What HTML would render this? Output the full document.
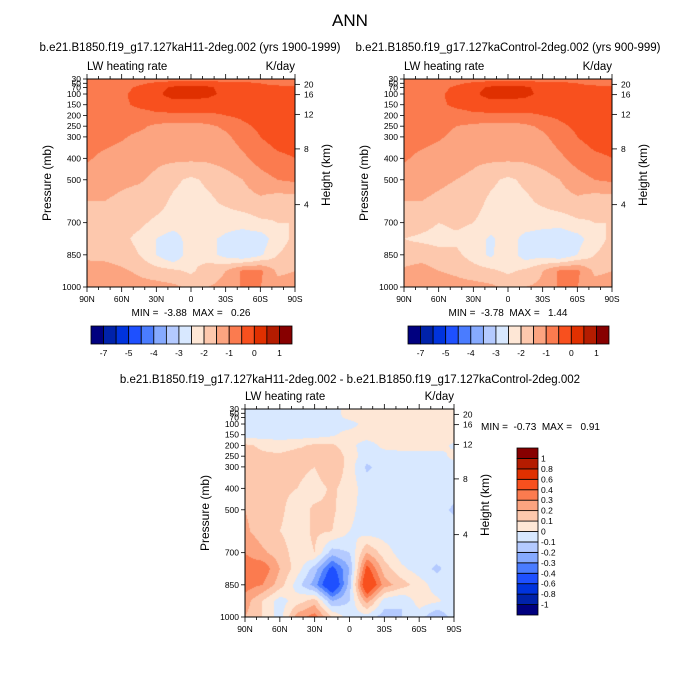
<!DOCTYPE html>
<html><head><meta charset="utf-8">
<style>
body{margin:0;background:#fff;}
#root{position:relative;width:700px;height:700px;overflow:hidden;font-family:"Liberation Sans",sans-serif;}
canvas{position:absolute;}
svg{position:absolute;left:0;top:0;}
</style></head>
<body>
<div id="root">
<svg id="svg" width="700" height="700"></svg>
</div>
<script>
// ---- data ----
const lats = [90,75,60,45,30,15,0,-15,-30,-45,-60,-75,-90];
const pressures = [30,50,70,100,150,200,250,300,400,500,600,700,775,850,925,1000];
const pressureTicks = [30,50,70,100,150,200,250,300,400,500,700,850,1000];
const latTicks = [90,60,30,0,-30,-60,-90];
const latTickLabels = ["90N","60N","30N","0","30S","60S","90S"];
const heightTicks = [20,16,12,8,4];
const heightTickPressures = [55,103,195,356,616];
const palette = ["#00007f","#0022aa","#0033dd","#1e50ff","#4a7cff","#86aaff","#b4caff","#d8e8ff","#fee7d6","#fdc8ad","#fca480","#fb7b4f","#f8501e","#e03000","#b41c00","#870000"];
const levelsAbs = [-7,-6,-5,-4.5,-4,-3.5,-3,-2.5,-2,-1.5,-1,-0.5,0,0.5,1];
const levelsAbsLabels = ["-7","","-5","","-4","","-3","","-2","","-1","","0","","1"];
const levelsDiff = [-1,-0.8,-0.6,-0.4,-0.3,-0.2,-0.1,0,0.1,0.2,0.3,0.4,0.6,0.8,1];
const levelsDiffLabels = ["-1","-0.8","-0.6","-0.4","-0.3","-0.2","-0.1","0","0.1","0.2","0.3","0.4","0.6","0.8","1"];
const fieldH11 = [
[-0.8,-0.8,-0.8,-0.8,-0.8,-0.7,-0.7,-0.7,-0.7,-0.7,-0.8,-0.8,-0.8],
[-0.8,-0.8,-0.8,-0.6,-0.4,-0.3,-0.3,-0.3,-0.4,-0.4,-0.5,-0.6,-0.7],
[-0.8,-0.8,-0.7,-0.4,-0.2,0.1,0.2,0.1,-0.2,-0.3,-0.4,-0.4,-0.4],
[-0.8,-0.8,-0.6,-0.3,-0.1,0.2,0.2,0.1,-0.1,-0.3,-0.3,-0.3,-0.3],
[-0.8,-0.8,-0.6,-0.4,-0.3,-0.2,-0.2,-0.2,-0.3,-0.3,-0.3,-0.3,-0.3],
[-0.8,-0.8,-0.75,-0.7,-0.6,-0.6,-0.6,-0.6,-0.5,-0.4,-0.3,-0.3,-0.3],
[-0.8,-0.8,-0.85,-0.9,-1.1,-1.2,-1.2,-1.1,-0.9,-0.6,-0.4,-0.3,-0.3],
[-0.8,-0.85,-0.95,-1.1,-1.2,-1.3,-1.3,-1.3,-1.1,-0.8,-0.5,-0.3,-0.3],
[-0.95,-1.1,-1.2,-1.3,-1.4,-1.4,-1.4,-1.4,-1.3,-1.1,-0.8,-0.6,-0.5],
[-1.2,-1.3,-1.4,-1.45,-1.6,-1.9,-2.1,-1.9,-1.7,-1.5,-1.2,-1.0,-0.9],
[-1.5,-1.5,-1.6,-1.7,-1.8,-2.1,-2.2,-2.1,-1.9,-1.7,-1.6,-1.8,-1.8],
[-1.6,-1.8,-1.9,-1.9,-2.1,-2.2,-2.1,-2.1,-2.3,-2.3,-2.1,-2.0,-2.0],
[-1.7,-1.8,-1.9,-2.1,-2.5,-2.8,-2.2,-2.4,-2.6,-2.8,-2.8,-2.2,-1.9],
[-1.6,-1.7,-1.8,-2.0,-2.5,-3.0,-2.1,-2.3,-2.7,-3.0,-2.6,-2.0,-1.8],
[-1.3,-1.2,-1.4,-1.6,-1.8,-1.9,-2.1,-1.7,-1.5,-0.9,-0.9,-1.6,-1.5],
[-1.3,-1.2,-1.2,-1.3,-1.3,-1.4,-1.6,-1.5,-1.4,-0.9,-1.0,-1.3,-1.3]];
const fieldControl = [
[-0.8,-0.8,-0.8,-0.8,-0.8,-0.7,-0.7,-0.7,-0.7,-0.7,-0.8,-0.8,-0.8],
[-0.8,-0.8,-0.8,-0.6,-0.4,-0.3,-0.3,-0.3,-0.4,-0.4,-0.5,-0.6,-0.7],
[-0.8,-0.8,-0.7,-0.4,-0.2,0.1,0.2,0.1,-0.2,-0.3,-0.4,-0.4,-0.4],
[-0.8,-0.8,-0.6,-0.3,-0.1,0.2,0.2,0.1,-0.1,-0.3,-0.3,-0.3,-0.3],
[-0.8,-0.8,-0.6,-0.4,-0.3,-0.2,-0.2,-0.2,-0.3,-0.3,-0.3,-0.3,-0.3],
[-0.8,-0.8,-0.75,-0.7,-0.6,-0.6,-0.6,-0.6,-0.5,-0.4,-0.3,-0.3,-0.3],
[-0.8,-0.8,-0.85,-1.0,-1.1,-1.2,-1.2,-1.1,-0.9,-0.6,-0.4,-0.3,-0.3],
[-0.8,-0.85,-0.95,-1.1,-1.2,-1.3,-1.3,-1.3,-1.1,-0.8,-0.5,-0.3,-0.3],
[-0.95,-1.1,-1.2,-1.3,-1.4,-1.4,-1.4,-1.4,-1.3,-1.1,-0.8,-0.6,-0.5],
[-1.2,-1.3,-1.4,-1.5,-1.6,-1.9,-2.1,-1.9,-1.7,-1.5,-1.2,-1.0,-0.9],
[-1.5,-1.5,-1.6,-1.7,-1.8,-2.1,-2.2,-2.1,-1.9,-1.7,-1.6,-1.8,-1.8],
[-1.7,-1.8,-2.0,-1.9,-2.0,-2.2,-2.1,-2.2,-2.3,-2.3,-2.1,-2.0,-2.0],
[-2.0,-2.1,-2.2,-2.1,-2.2,-2.6,-2.2,-2.7,-2.8,-2.9,-2.7,-2.2,-1.9],
[-1.8,-1.7,-1.8,-1.9,-2.2,-2.6,-2.1,-2.8,-2.7,-3.0,-2.5,-2.0,-1.8],
[-1.4,-1.3,-1.5,-1.6,-1.8,-1.9,-2.1,-1.9,-1.5,-0.9,-0.9,-1.6,-1.5],
[-1.3,-1.0,-1.2,-1.3,-1.3,-1.4,-1.6,-1.5,-1.4,-0.9,-1.0,-1.3,-1.3]];
const fieldDiff = [
[-0.05,-0.05,-0.05,-0.05,-0.05,-0.05,0.05,0.05,0.05,0.05,0.05,0.05,0.05],
[-0.05,-0.05,-0.05,-0.05,-0.05,-0.05,0.05,0.05,0.05,0.05,0.05,0.05,0.05],
[-0.05,-0.05,-0.05,-0.05,-0.05,-0.05,0.03,0.05,0.05,0.05,0.05,0.05,0.05],
[-0.05,-0.05,-0.05,-0.05,-0.05,-0.05,-0.05,0.05,0.05,0.05,0.05,0.05,0.05],
[-0.05,-0.05,-0.05,-0.05,-0.05,-0.02,0.05,0.05,0.05,0.05,0.05,0.05,0.05],
[0.12,0.08,0.05,0.08,0.12,0.12,0.03,-0.05,0.03,0.05,0.05,0.05,-0.02],
[0.15,0.12,0.12,0.15,0.12,0.2,0.05,-0.05,-0.05,-0.05,-0.05,-0.05,0.03],
[0.15,0.15,0.12,0.13,0.1,0.2,0.05,-0.12,-0.05,-0.05,-0.05,-0.05,-0.05],
[0.15,0.15,0.12,0.1,0.05,0.12,0.05,-0.05,-0.05,-0.05,-0.05,-0.05,-0.05],
[0.2,0.15,0.12,0.05,0.12,0.12,0.03,-0.05,-0.05,-0.05,-0.05,-0.05,-0.12],
[0.22,0.15,0.1,0.05,0.12,0.1,0.0,-0.05,-0.05,-0.05,-0.05,-0.05,-0.05],
[0.3,0.22,0.15,0.05,0.1,-0.15,-0.1,0.2,0.05,-0.05,-0.05,-0.05,-0.05],
[0.35,0.38,0.2,0.05,-0.15,-0.45,-0.2,0.45,0.15,0.02,-0.05,-0.12,-0.05],
[0.35,0.3,0.15,-0.05,-0.25,-0.6,-0.15,0.6,0.25,0.15,0.05,-0.05,-0.05],
[0.25,0.1,-0.05,0.05,0.15,-0.2,-0.1,0.25,-0.05,-0.1,0.05,0.02,-0.05],
[0.2,0.1,-0.05,0.25,0.35,0.1,-0.05,-0.05,-0.15,-0.1,-0.05,-0.2,-0.05]];

const NS="http://www.w3.org/2000/svg";
const svg=document.getElementById('svg');
const root=document.getElementById('root');
function el(tag,attrs,parent){const e=document.createElementNS(NS,tag);for(const k in attrs)e.setAttribute(k,attrs[k]);(parent||svg).appendChild(e);return e;}
function txt(x,y,s,size,anchor,name,extra){
  const t=el('text',Object.assign({x:x,y:y,'font-size':size,'text-anchor':anchor||'middle','font-family':'Liberation Sans, sans-serif',fill:'#000'},extra||{}));
  t.textContent=s;
  
  
  return t;
}
function colorIndex(v,levels){let k=0;while(k<levels.length&&v>=levels[k])k++;return k;}
function interp(field,lat,p){
  let j=0;while(j<lats.length-2&&lat<lats[j+1])j++;
  let i=0;while(i<pressures.length-2&&p>pressures[i+1])i++;
  const tx=(lats[j]-lat)/(lats[j]-lats[j+1]);
  const ty=(p-pressures[i])/(pressures[i+1]-pressures[i]);
  const a=field[i][j],b=field[i][j+1],c=field[i+1][j],d=field[i+1][j+1];
  return (a*(1-tx)+b*tx)*(1-ty)+(c*(1-tx)+d*tx)*ty;
}
function hex(c){return [parseInt(c.substr(1,2),16),parseInt(c.substr(3,2),16),parseInt(c.substr(5,2),16)];}
const pal=palette.map(hex);

function panel(x0,y0,w,h,field,levels,name){
  const xs=lat=>x0+(90-lat)/180*w;
  const ys=p=>y0+(p-30)/970*h;
  const cv=document.createElement('canvas');
  cv.width=w;cv.height=h;cv.style.left=x0+'px';cv.style.top=y0+'px';
  
  
  root.insertBefore(cv,svg);
  svg.style.zIndex=2;cv.style.zIndex=1;
  const ctx=cv.getContext('2d');const img=ctx.createImageData(w,h);
  for(let py=0;py<h;py++){const p=30+(py+0.5)/h*970;
    for(let px=0;px<w;px++){const lat=90-(px+0.5)/w*180;
      const c=pal[colorIndex(interp(field,lat,p),levels)];const o=(py*w+px)*4;
      img.data[o]=c[0];img.data[o+1]=c[1];img.data[o+2]=c[2];img.data[o+3]=255;}}
  ctx.putImageData(img,0,0);
  const g=el('g',{});
  el('rect',{x:x0,y:y0,width:w,height:h,fill:'none',stroke:'#000','stroke-width':1},g);
  pressureTicks.forEach(p=>{const y=ys(p);
    el('line',{x1:x0-4,x2:x0,y1:y,y2:y,stroke:'#000','stroke-width':0.8},g);
    txt(x0-6,y+3,String(p),8.5,'end','pressure-tick-label');});
  for(let lat=90;lat>=-90;lat-=10){const x=xs(lat);const major=lat%30===0;const L=major?5:3;
    el('line',{x1:x,x2:x,y1:y0+h,y2:y0+h+L,stroke:'#000','stroke-width':0.8},g);
    el('line',{x1:x,x2:x,y1:y0,y2:y0-L,stroke:'#000','stroke-width':0.8},g);}
  latTicks.forEach((lat,i)=>txt(xs(lat),y0+h+15,latTickLabels[i],8.5,'middle','latitude-tick-label'));
  heightTicks.forEach((hk,i)=>{const y=ys(heightTickPressures[i]);
    el('line',{x1:x0+w,x2:x0+w+5,y1:y,y2:y,stroke:'#000','stroke-width':0.8},g);
    txt(x0+w+9,y+3,String(hk),8.5,'start','height-tick-label');});
  txt(x0,y0-9,'LW heating rate',11.5,'start','panel-left-title');
  txt(x0+w,y0-9,'K/day',11.5,'end','panel-units');
  txt(0,0,'Pressure (mb)',12,'middle','y-axis-title',{transform:`translate(${x0-36},${y0+h/2}) rotate(-90)`});
  txt(0,0,'Height (km)',12,'middle','right-axis-title',{transform:`translate(${x0+w+35},${y0+h/2-8}) rotate(-90)`});
}
function hbar(x0,y0,w,h,labels,name){
  const bw=w/16;
  for(let k=0;k<16;k++){const r=el('rect',{x:x0+k*bw,y:y0,width:bw,height:h,fill:palette[k],stroke:'#000','stroke-width':0.8});
    }
  labels.forEach((s,k)=>{if(s)txt(x0+(k+1)*bw,y0+h+12,s,8.5,'middle',name+'-label');});
}
function vbar(x0,y0,w,h,labels,name){
  const bh=h/16;
  for(let k=0;k<16;k++){const r=el('rect',{x:x0,y:y0+h-(k+1)*bh,width:w,height:bh,fill:palette[k],stroke:'#000','stroke-width':0.8});
    }
  labels.forEach((s,k)=>txt(x0+w+3,y0+h-(k+1)*bh+3,s,8.5,'start',name+'-label'));
}
txt(350,26,'ANN',17,'middle','main-title');
txt(190,51,'b.e21.B1850.f19_g17.127kaH11-2deg.002 (yrs 1900-1999)',11.5,'middle','left-panel-title');
txt(508,51,'b.e21.B1850.f19_g17.127kaControl-2deg.002 (yrs 900-999)',11.5,'middle','right-panel-title');
panel(87,79,208,208,fieldH11,levelsAbs,'h11-panel');
panel(404,79,208,208,fieldControl,levelsAbs,'control-panel');
panel(245,409,209,208,fieldDiff,levelsDiff,'difference-panel');
txt(191,316,'MIN =\u00a0 -3.88\u00a0 MAX =\u00a0 \u00a00.26',10,'middle','h11-min-max');
txt(508,316,'MIN =\u00a0 -3.78\u00a0 MAX =\u00a0 \u00a01.44',10,'middle','control-min-max');
txt(481,430,'MIN =\u00a0 -0.73\u00a0 MAX =\u00a0 \u00a00.91',10,'start','difference-min-max');
hbar(91,326,201,18,levelsAbsLabels,'h11-colorbar');
hbar(408,326,201,18,levelsAbsLabels,'control-colorbar');
txt(350,383,'b.e21.B1850.f19_g17.127kaH11-2deg.002 - b.e21.B1850.f19_g17.127kaControl-2deg.002',11.5,'middle','difference-panel-title');
vbar(517,448,21,167,levelsDiffLabels,'difference-colorbar');
</script>
</body></html>
